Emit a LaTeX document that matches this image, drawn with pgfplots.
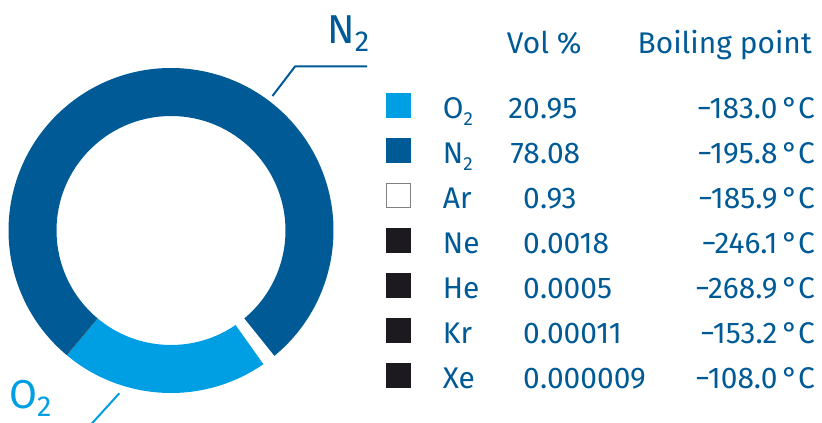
\documentclass[border=0pt]{standalone}
\usepackage{pgfplots}
\pgfplotsset{compat=1.18}
\usepackage{pgfplotstable}
\usepackage{fontspec}
\setmainfont{Fira Sans}

\definecolor{lblue}{RGB}{0,159,227}
\definecolor{dblue}{RGB}{0,90,150}
\definecolor{blk}{RGB}{28,26,31}

\pgfplotstableread{
gas vol bp
O2 20.95 -183.0
N2 78.08 -195.8
Ar 0.93 -185.9
Ne 0.0018 -246.1
He 0.0005 -268.9
Kr 0.00011 -153.2
Xe 0.000009 -108.0
}\gastable

\newcommand\tsub{\raisebox{-7bp}{\fontsize{19}{19}\selectfont 2}}
\newcommand\bsub{\raisebox{-8.5bp}{\fontsize{29}{29}\selectfont 2}}

% donut segment: start angle, end angle, style
\newcommand\seg[3]{%
  \path[#3] (axis cs:171,192.5) ++(#1:162.5bp)
    arc[start angle=#1, end angle=#2, radius=162.5bp]
    -- ++(#2:-48bp)
    arc[start angle=#2, end angle=#1, radius=114.5bp] -- cycle;}

\begin{document}
\begin{tikzpicture}
\pgfplotstablegetelem{0}{vol}\of\gastable \pgfmathsetmacro\vO{\pgfplotsretval}
\pgfplotstablegetelem{1}{vol}\of\gastable \pgfmathsetmacro\vN{\pgfplotsretval}
\pgfplotstablegetelem{2}{vol}\of\gastable \pgfmathsetmacro\vAr{\pgfplotsretval}
\pgfmathsetmacro\aA{-130}
\pgfmathsetmacro\aB{\aA+3.6*\vO}
\pgfmathsetmacro\aC{\aB+3.6*\vAr}
\pgfmathsetmacro\aD{\aC+3.6*\vN}
\pgfmathsetmacro\aE{\aA+360}
\begin{axis}[hide axis, x=1bp, y=1bp, xmin=0, xmax=822, ymin=0, ymax=423,
  clip=false, anchor=origin, at={(0,0)}]
  % donut
  \seg{\aA}{\aB}{fill=lblue}
  \seg{\aC}{\aD}{fill=dblue}
  \seg{\aD}{\aE}{fill=blk}
  \seg{\aB}{\aC}{fill=white, draw=white, line width=4bp}
  % leader lines and labels
  \draw[dblue, line width=2bp] (axis cs:272.5,327) -- (axis cs:295,356.5) -- (axis cs:367,356.5);
  \node[dblue, anchor=base west, inner sep=0pt, font=\fontsize{40.5}{40.5}\selectfont]
     at (axis cs:327,379.7) {N\bsub};
  \draw[lblue, line width=2bp] (axis cs:119.3,29.7) -- (axis cs:86,-7);
  \node[lblue, anchor=base west, inner sep=0pt, font=\fontsize{40.5}{40.5}\selectfont]
     at (axis cs:9,15) {O\bsub};
  \begin{scope}[every node/.style={dblue, inner sep=0pt, font=\fontsize{30}{35}\selectfont}]
  % table header
  \node[anchor=base west] at (axis cs:506.7,369.7) {Vol \%};
  \node[anchor=base east] at (axis cs:812,369.7) {Boiling point};
  % squares
  \fill[lblue] (axis cs:386,329.7) rectangle (axis cs:411,305.3);
  \fill[dblue] (axis cs:386,284.7) rectangle (axis cs:411,260.3);
  \filldraw[fill=white, draw=gray, line width=1bp] (axis cs:386.5,239.2) rectangle (axis cs:410.5,215.8);
  \fill[blk] (axis cs:386,194.7) rectangle (axis cs:411,170.3);
  \fill[blk] (axis cs:386,149.7) rectangle (axis cs:411,125.3);
  \fill[blk] (axis cs:386,104.7) rectangle (axis cs:411,80.3);
  \fill[blk] (axis cs:386,59.7) rectangle (axis cs:411,35.3);
  % rows
  \node[anchor=base west] at (axis cs:442.7,304.7) {O\tsub};
  \node[anchor=base east] at (axis cs:540,304.7) {20};
  \node[anchor=base west] at (axis cs:540,304.7) {.95};
  \node[anchor=base east] at (axis cs:815,304.7) {−183.0\,°C};

  \node[anchor=base west] at (axis cs:442.7,259.7) {N\tsub};
  \node[anchor=base east] at (axis cs:540,259.7) {78};
  \node[anchor=base west] at (axis cs:540,259.7) {.08};
  \node[anchor=base east] at (axis cs:815,259.7) {−195.8\,°C};

  \node[anchor=base west] at (axis cs:442.7,214.7) {Ar};
  \node[anchor=base east] at (axis cs:540,214.7) {0};
  \node[anchor=base west] at (axis cs:540,214.7) {.93};
  \node[anchor=base east] at (axis cs:815,214.7) {−185.9\,°C};

  \node[anchor=base west] at (axis cs:442.7,169.7) {Ne};
  \node[anchor=base east] at (axis cs:540,169.7) {0};
  \node[anchor=base west] at (axis cs:540,169.7) {.0018};
  \node[anchor=base east] at (axis cs:815,169.7) {−246.1\,°C};

  \node[anchor=base west] at (axis cs:442.7,124.7) {He};
  \node[anchor=base east] at (axis cs:540,124.7) {0};
  \node[anchor=base west] at (axis cs:540,124.7) {.0005};
  \node[anchor=base east] at (axis cs:815,124.7) {−268.9\,°C};

  \node[anchor=base west] at (axis cs:442.7,79.7) {Kr};
  \node[anchor=base east] at (axis cs:540,79.7) {0};
  \node[anchor=base west] at (axis cs:540,79.7) {.00011};
  \node[anchor=base east] at (axis cs:815,79.7) {−153.2\,°C};

  \node[anchor=base west] at (axis cs:442.7,34.7) {Xe};
  \node[anchor=base east] at (axis cs:540,34.7) {0};
  \node[anchor=base west] at (axis cs:540,34.7) {.000009};
  \node[anchor=base east] at (axis cs:815,34.7) {−108.0\,°C};
  \end{scope}
\end{axis}
\pgfresetboundingbox
\path (0,0) rectangle (822bp,423bp);
\end{tikzpicture}
\end{document}
